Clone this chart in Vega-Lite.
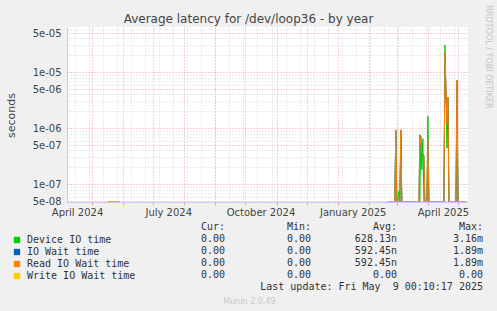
{
  "$schema": "https://vega.github.io/schema/vega-lite/v6.json",
  "width": 401,
  "height": 175,
  "autosize": "none",
  "padding": {"left": 67, "top": 27, "right": 29, "bottom": 109},
  "background": "#f0f0f0",
  "title": {"text": "Average latency for /dev/loop36 - by year", "font": "DejaVu Sans", "fontSize": 12, "fontWeight": "normal", "color": "#444", "anchor": "middle", "frame": "group", "dx": -19, "dy": 30, "offset": 0, "baseline": "alphabetic"},
  "datasets": {
    "lat": [
      {"date": "2024-05-17", "Device IO time": 0, "IO Wait time": 0, "Read IO Wait time": 0, "Write IO Wait time": 0},
      {"date": "2024-05-28", "Device IO time": 0, "IO Wait time": 0, "Read IO Wait time": 0, "Write IO Wait time": 0},
      {"date": "2024-05-29", "Device IO time": null, "IO Wait time": null, "Read IO Wait time": null, "Write IO Wait time": null},
      {"date": "2025-02-20", "Device IO time": 0, "IO Wait time": 0, "Read IO Wait time": 0, "Write IO Wait time": 0},
      {"date": "2025-02-27", "Device IO time": 0, "IO Wait time": 0, "Read IO Wait time": 0, "Write IO Wait time": 0},
      {"date": "2025-02-28", "Device IO time": 8.5e-7, "IO Wait time": 9.3e-7, "Read IO Wait time": 9.3e-7, "Write IO Wait time": 0},
      {"date": "2025-03-01", "Device IO time": 0, "IO Wait time": 0, "Read IO Wait time": 0, "Write IO Wait time": 0},
      {"date": "2025-03-02", "Device IO time": 0, "IO Wait time": 0, "Read IO Wait time": 0, "Write IO Wait time": 0},
      {"date": "2025-03-03", "Device IO time": 7.5e-8, "IO Wait time": 0, "Read IO Wait time": 0, "Write IO Wait time": 0},
      {"date": "2025-03-04", "Device IO time": 0, "IO Wait time": 0, "Read IO Wait time": 0, "Write IO Wait time": 0},
      {"date": "2025-03-05", "Device IO time": 8.5e-7, "IO Wait time": 9.3e-7, "Read IO Wait time": 9.3e-7, "Write IO Wait time": 0},
      {"date": "2025-03-06", "Device IO time": 0, "IO Wait time": 0, "Read IO Wait time": 0, "Write IO Wait time": 0},
      {"date": "2025-03-23", "Device IO time": 0, "IO Wait time": 0, "Read IO Wait time": 0, "Write IO Wait time": 0},
      {"date": "2025-03-24", "Device IO time": 0, "IO Wait time": 7.6e-7, "Read IO Wait time": 7.6e-7, "Write IO Wait time": 0},
      {"date": "2025-03-25", "Device IO time": 7.2e-7, "IO Wait time": 5e-7, "Read IO Wait time": 5e-7, "Write IO Wait time": 0},
      {"date": "2025-03-26", "Device IO time": 1.8e-7, "IO Wait time": 3.6e-7, "Read IO Wait time": 3.6e-7, "Write IO Wait time": 0},
      {"date": "2025-03-27", "Device IO time": 6.5e-7, "IO Wait time": 3.4e-7, "Read IO Wait time": 3.4e-7, "Write IO Wait time": 0},
      {"date": "2025-03-28", "Device IO time": 0, "IO Wait time": 3.3e-7, "Read IO Wait time": 3.3e-7, "Write IO Wait time": 0},
      {"date": "2025-03-29", "Device IO time": 0, "IO Wait time": 0, "Read IO Wait time": 0, "Write IO Wait time": 0},
      {"date": "2025-03-31", "Device IO time": 0, "IO Wait time": 0, "Read IO Wait time": 0, "Write IO Wait time": 0},
      {"date": "2025-04-01", "Device IO time": 1.65e-6, "IO Wait time": 6.2e-7, "Read IO Wait time": 6.2e-7, "Write IO Wait time": 0},
      {"date": "2025-04-02", "Device IO time": 0, "IO Wait time": 0, "Read IO Wait time": 0, "Write IO Wait time": 0},
      {"date": "2025-04-17", "Device IO time": 0, "IO Wait time": 0, "Read IO Wait time": 0, "Write IO Wait time": 0},
      {"date": "2025-04-18", "Device IO time": 3.05e-5, "IO Wait time": 2.2e-5, "Read IO Wait time": 2.2e-5, "Write IO Wait time": 0},
      {"date": "2025-04-20", "Device IO time": 4.4e-7, "IO Wait time": 1.2e-6, "Read IO Wait time": 1.2e-6, "Write IO Wait time": 0},
      {"date": "2025-04-21", "Device IO time": 3.2e-6, "IO Wait time": 3.6e-6, "Read IO Wait time": 3.6e-6, "Write IO Wait time": 0},
      {"date": "2025-04-22", "Device IO time": 0, "IO Wait time": 0, "Read IO Wait time": 0, "Write IO Wait time": 0},
      {"date": "2025-04-29", "Device IO time": 0, "IO Wait time": 0, "Read IO Wait time": 0, "Write IO Wait time": 0},
      {"date": "2025-04-30", "Device IO time": 6.5e-6, "IO Wait time": 7.2e-6, "Read IO Wait time": 7.2e-6, "Write IO Wait time": 0},
      {"date": "2025-05-01", "Device IO time": 0, "IO Wait time": 0, "Read IO Wait time": 0, "Write IO Wait time": 0},
      {"date": "2025-05-09", "Device IO time": 0, "IO Wait time": 0, "Read IO Wait time": 0, "Write IO Wait time": 0}
    ],
    "stats": [
      {"row": "header", "cur": "Cur:\u00a0\u00a0", "min": "Min:\u00a0\u00a0", "avg": "Avg:\u00a0\u00a0", "max": "Max:\u00a0\u00a0"},
      {"row": "Device IO time", "cur": "0.00\u00a0", "min": "0.00\u00a0", "avg": "628.13n", "max": "3.16m"},
      {"row": "IO Wait time", "cur": "0.00\u00a0", "min": "0.00\u00a0", "avg": "592.45n", "max": "1.89m"},
      {"row": "Read IO Wait time", "cur": "0.00\u00a0", "min": "0.00\u00a0", "avg": "592.45n", "max": "1.89m"},
      {"row": "Write IO Wait time", "cur": "0.00\u00a0", "min": "0.00\u00a0", "avg": "0.00\u00a0", "max": "0.00\u00a0"},
      {"row": "update", "max": "Last update: Fri May\u00a0\u00a09 00:10:17 2025"}
    ]
  },
  "resolve": {"scale": {"x": "independent", "y": "independent"}, "axis": {"x": "independent", "y": "independent"}},
  "layer": [
    {
      "data": {"name": "lat"},
      "transform": [{"fold": ["Device IO time"], "as": ["series", "value"]}],
      "mark": {"type": "line", "strokeWidth": 1, "clip": true, "invalid": "break-paths-filter-domains"},
      "encoding": {
        "x": {"field": "date", "type": "temporal", "scale": {"domain": [{"year": 2024, "month": 4, "date": 6}, {"year": 2025, "month": 5, "date": 11}]},
          "axis": {"orient": "bottom", "title": null, "labels": false, "ticks": false, "domain": false, "grid": true, "gridColor": "#d8d8d8", "gridDash": [1, 2], "gridOpacity": 1,
            "values": [{"year": 2024, "month": 4, "date": 14}, {"year": 2024, "month": 4, "date": 28}, {"year": 2024, "month": 5, "date": 12}, {"year": 2024, "month": 5, "date": 26}, {"year": 2024, "month": 6, "date": 9}, {"year": 2024, "month": 6, "date": 23}, {"year": 2024, "month": 7, "date": 7}, {"year": 2024, "month": 7, "date": 21}, {"year": 2024, "month": 8, "date": 4}, {"year": 2024, "month": 8, "date": 18}, {"year": 2024, "month": 9, "date": 1}, {"year": 2024, "month": 9, "date": 15}, {"year": 2024, "month": 9, "date": 29}, {"year": 2024, "month": 10, "date": 13}, {"year": 2024, "month": 10, "date": 27}, {"year": 2024, "month": 11, "date": 10}, {"year": 2024, "month": 11, "date": 24}, {"year": 2024, "month": 12, "date": 8}, {"year": 2024, "month": 12, "date": 22}, {"year": 2025, "month": 1, "date": 5}, {"year": 2025, "month": 1, "date": 19}, {"year": 2025, "month": 2, "date": 2}, {"year": 2025, "month": 2, "date": 16}, {"year": 2025, "month": 3, "date": 2}, {"year": 2025, "month": 3, "date": 16}, {"year": 2025, "month": 3, "date": 30}, {"year": 2025, "month": 4, "date": 13}, {"year": 2025, "month": 4, "date": 27}]}},
        "y": {"field": "value", "type": "quantitative", "scale": {"type": "log", "domain": [4.8e-8, 6.4e-5], "clamp": true, "nice": false},
          "axis": {"orient": "left", "title": null, "labels": false, "ticks": false, "domain": false, "grid": true, "gridColor": "#d8d8d8", "gridDash": [1, 2], "gridOpacity": 1,
            "values": [6e-8, 7e-8, 8e-8, 9e-8, 2e-7, 3e-7, 4e-7, 6e-7, 7e-7, 8e-7, 9e-7, 2e-6, 3e-6, 4e-6, 6e-6, 7e-6, 8e-6, 9e-6, 2e-5, 3e-5, 4e-5, 6e-5]}},
        "color": {"field": "series", "type": "nominal",
          "scale": {"domain": ["Device IO time", "IO Wait time", "Read IO Wait time", "Write IO Wait time"], "range": ["#00cc00", "#0066b3", "#ff8000", "#ffcc00"]},
          "legend": {"orient": "none", "legendX": -55, "legendY": 208, "title": null, "direction": "vertical", "symbolType": "square", "symbolSize": 40, "symbolStrokeWidth": 0, "labelFont": "DejaVu Sans Mono", "labelFontSize": 10, "labelColor": "#333", "rowPadding": 2, "labelOffset": 5, "labelLimit": 300,
            "encode": {"symbols": {"update": {"fill": {"scale": "color", "field": "value"}, "opacity": {"value": 1}}}}}}
      }
    },
    {
      "data": {"name": "lat"},
      "transform": [{"fold": ["IO Wait time"], "as": ["series", "value"]}],
      "mark": {"type": "line", "strokeWidth": 1, "clip": true, "invalid": "break-paths-filter-domains"},
      "encoding": {
        "x": {"field": "date", "type": "temporal", "scale": {"domain": [{"year": 2024, "month": 4, "date": 6}, {"year": 2025, "month": 5, "date": 11}]},
          "axis": {"orient": "bottom", "title": null, "labels": false, "ticks": true, "tickSize": 3, "tickColor": "#e8a0a0", "domain": false, "grid": true, "gridColor": "#eca4a4", "gridDash": [1, 2], "gridOpacity": 1,
            "values": [{"year": 2024, "month": 5, "date": 1}, {"year": 2024, "month": 6, "date": 1}, {"year": 2024, "month": 7, "date": 1}, {"year": 2024, "month": 8, "date": 1}, {"year": 2024, "month": 9, "date": 1}, {"year": 2024, "month": 10, "date": 1}, {"year": 2024, "month": 11, "date": 1}, {"year": 2024, "month": 12, "date": 1}, {"year": 2025, "month": 1, "date": 1}, {"year": 2025, "month": 2, "date": 1}, {"year": 2025, "month": 3, "date": 1}, {"year": 2025, "month": 4, "date": 1}, {"year": 2025, "month": 5, "date": 1}]}},
        "y": {"field": "value", "type": "quantitative", "scale": {"type": "log", "domain": [4.8e-8, 6.4e-5], "clamp": true, "nice": false},
          "axis": {"orient": "left", "values": [5e-8, 1e-7, 5e-7, 1e-6, 5e-6, 1e-5, 5e-5], "labelExpr": "replace(format(datum.value, '.0e'), 'e-', 'e-0')",
            "grid": true, "gridColor": "#eca4a4", "gridDash": [1, 2], "gridOpacity": 1, "ticks": false, "domain": true, "domainColor": "#c8c8f4",
            "labelPadding": 6, "labelFont": "DejaVu Sans", "labelFontSize": 10, "labelColor": "#444",
            "title": "seconds", "titleFont": "DejaVu Sans", "titleFontSize": 11, "titleFontWeight": "normal", "titleColor": "#444", "titleX": -56, "titleY": 88, "titleAngle": 270, "titleAlign": "center", "titleBaseline": "middle"}},
        "color": {"field": "series", "type": "nominal"}
      }
    },
    {
      "data": {"name": "lat"},
      "transform": [{"fold": ["Read IO Wait time"], "as": ["series", "value"]}],
      "mark": {"type": "line", "strokeWidth": 1, "clip": true, "invalid": "break-paths-filter-domains"},
      "encoding": {
        "x": {"field": "date", "type": "temporal", "scale": {"domain": [{"year": 2024, "month": 4, "date": 6}, {"year": 2025, "month": 5, "date": 11}]},
          "axis": {"orient": "bottom", "format": "%B %Y", "grid": false, "ticks": false, "domain": true, "domainColor": "#c8c8f4", "labelPadding": 5, "labelFont": "DejaVu Sans", "labelFontSize": 10, "labelColor": "#444", "labelOverlap": false, "labelFlush": false,
            "values": [{"year": 2024, "month": 4, "date": 16}, {"year": 2024, "month": 7, "date": 16}, {"year": 2024, "month": 10, "date": 16}, {"year": 2025, "month": 1, "date": 16}, {"year": 2025, "month": 4, "date": 16}],
            "title": "Munin 2.0.49", "titleFont": "DejaVu Sans", "titleFontSize": 8, "titleFontWeight": "normal", "titleColor": "#c8c8c8", "titleX": 182, "titleY": 99, "titleAlign": "center", "titleBaseline": "middle"}},
        "y": {"field": "value", "type": "quantitative", "scale": {"type": "log", "domain": [4.8e-8, 6.4e-5], "clamp": true, "nice": false},
          "axis": {"orient": "right", "labels": false, "ticks": false, "domain": false, "grid": false,
            "title": "RRDTOOL / TOBI OETIKER", "titleFont": "DejaVu Sans", "titleFontSize": 8, "titleFontWeight": "normal", "titleColor": "#c4c4c4", "titleAngle": 90, "titleAlign": "left", "titleBaseline": "middle", "titleX": 19, "titleY": -22}},
        "color": {"field": "series", "type": "nominal"}
      }
    },
    {
      "data": {"name": "lat"},
      "transform": [{"fold": ["Write IO Wait time"], "as": ["series", "value"]}],
      "mark": {"type": "line", "strokeWidth": 1, "clip": true, "invalid": "break-paths-filter-domains"},
      "encoding": {
        "x": {"field": "date", "type": "temporal", "scale": {"domain": [{"year": 2024, "month": 4, "date": 6}, {"year": 2025, "month": 5, "date": 11}]}, "axis": null},
        "y": {"field": "value", "type": "quantitative", "scale": {"type": "log", "domain": [4.8e-8, 6.4e-5], "clamp": true, "nice": false}, "axis": null},
        "color": {"field": "series", "type": "nominal"}
      }
    },
    {
      "data": {"name": "stats"},
      "transform": [{"fold": ["cur", "min", "avg", "max"], "as": ["col", "text"]}, {"filter": "isValid(datum.text)"}],
      "mark": {"type": "text", "align": "right", "baseline": "middle", "font": "DejaVu Sans Mono", "fontSize": 10, "color": "#333"},
      "encoding": {
        "x": {"field": "col", "type": "nominal", "scale": {"type": "point", "domain": ["cur", "min", "avg", "max"], "range": [158, 416], "padding": 0}, "axis": null},
        "y": {"field": "row", "type": "nominal", "scale": {"type": "point", "domain": ["header", "Device IO time", "IO Wait time", "Read IO Wait time", "Write IO Wait time", "update"], "range": [200, 260], "padding": 0}, "axis": null},
        "text": {"field": "text"}
      }
    }
  ],
  "config": {
    "view": {"fill": "#ffffff", "stroke": null},
    "legend": {"padding": 0}
  }
}
